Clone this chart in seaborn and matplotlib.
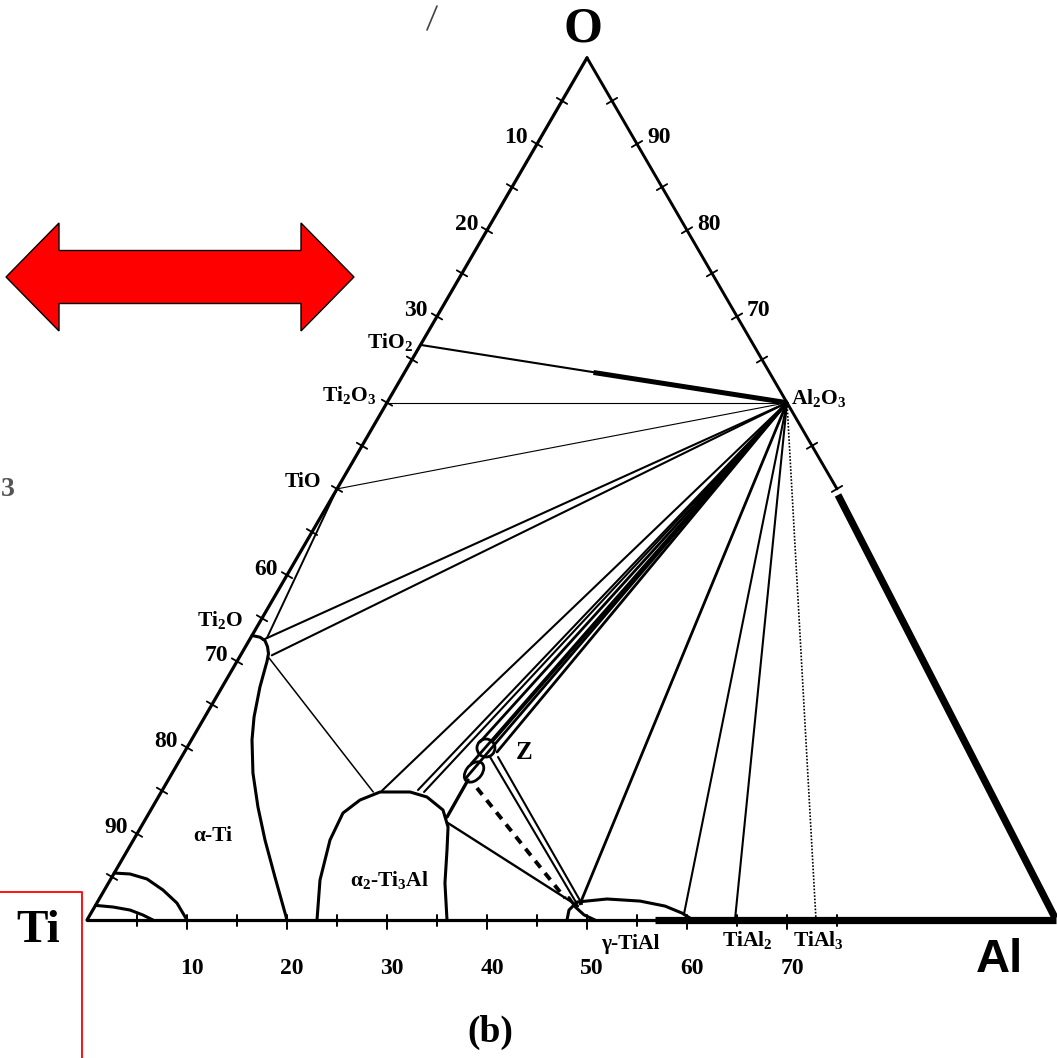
import numpy as np
import pandas as pd
import matplotlib
matplotlib.use('Agg')
import matplotlib.pyplot as plt
from matplotlib.patches import Ellipse, Polygon
import seaborn as sns

# compositions are at.% (Al, O); Ti is the balance
AL2O3 = (40.0, 60.0)

# tie lines radiating from Al2O3 (end compositions)
tie_thin_al = [0.0, 0.0]             # Ti2O3, TiO
tie_thin_o = [60.0, 50.0]
tie_al = [0.0, 1.36, 3.13, 22.0, 25.56, 26.28, 59.35, 64.7]
tie_o = [66.7, 32.5, 30.7, 15.0, 15.08, 14.85, 0.7, 0.23]
tie_heavy_al = [29.66, 29.35, 28.98, 30.18, 31.26, 48.37]
tie_heavy_o = [16.47, 18.1, 20.65, 20.65, 19.49, 1.86]
tie_dot_al = [72.9]
tie_dot_o = [0.0]
tio2_band_start = (18.9, 63.5)

# other tie lines (start -> end)
seg_a_al = [1.64, 3.0, 30.03, 30.47, 30.85, 31.65]
seg_a_o = [32.7, 30.4, 11.95, 11.25, 18.91, 18.91]
seg_b_al = [0.0, 21.2, 29.98, 48.29, 48.07, 48.57]
seg_b_o = [50.0, 14.85, 16.24, 1.62, 1.86, 1.86]
seg_lw = [1.4, 1.1, 2.4, 1.7, 1.5, 1.5]
dash_al = [31.34, 46.52]
dash_o = [15.31, 2.55]

# phase boundaries
alpha_al = [0.0, 0.9, 1.6, 2.2, 2.7, 3.0, 3.78, 4.93, 6.06, 8.07, 10.54, 13.16, 16.3, 20.0]
alpha_o = [33.0, 32.8, 32.4, 31.7, 30.9, 30.0, 27.03, 23.55, 20.88, 17.05, 13.11, 9.28, 4.99, 0.0]
dome_al = [23.0, 20.98, 19.66, 19.39, 20.34, 21.88, 24.88, 26.86, 29.22, 30.71, 31.94, 33.65, 36.0]
dome_o = [0.0, 4.64, 9.28, 12.41, 13.92, 14.85, 14.85, 14.27, 12.76, 10.79, 8.12, 4.29, 0.0]
gamma_al = [48.0, 47.62, 47.96, 50.78, 54.2, 56.99, 59.09, 60.18]
gamma_o = [0.0, 1.16, 2.09, 2.44, 2.2, 1.62, 0.81, 0.23]
gamma_low_al = [46.9, 48.1, 49.4, 50.8]
gamma_low_o = [2.6, 1.5, 0.6, 0.0]
arc1_al = [0.0, 1.63, 3.62, 5.86, 8.01, 10.0]
arc1_o = [5.45, 5.34, 4.76, 3.48, 1.97, 0.0]
arc2_al = [0.0, 1.85, 3.72, 5.31, 6.6]
arc2_o = [1.7, 1.51, 1.16, 0.58, 0.0]

# Z point and neighbouring ellipse (centres)
z_circle = (29.92, 19.95)
z_ellipse = (30.12, 17.17)

# overlaid heavy edges (end points)
heavy_right = [(50.45, 49.3), (96.7, 0.23)]
heavy_base = [(56.8, 0.0), (96.9, 0.0)]
right_edge_end = (50.0, 50.0)
base_edge_end = (56.8, 0.0)

# axis ticks
left_ticks = [5, 10, 15, 20, 25, 30, 35, 40, 45, 50, 55, 60, 65, 70, 75, 80, 85, 90, 95]
left_labels = ['10', '20', '30', '60', '70', '80', '90']
right_ticks = [95, 90, 85, 80, 75, 70, 65, 55, 50]
right_labels = ['90', '80', '70']
base_ticks = [5, 10, 15, 20, 25, 30, 35, 40, 45, 50, 55, 60, 65, 70, 75]
base_labels = ['10', '20', '30', '40', '50', '60', '70']

# phase labels (text, Al, O)
phase_text = ['TiO$_2$', 'Ti$_2$O$_3$', 'TiO', 'Ti$_2$O', 'Al$_2$O$_3$', 'α-Ti',
              'α$_2$-Ti$_3$Al', 'γ-TiAl', 'TiAl$_2$', 'TiAl$_3$']
phase_al = [-3.23, -4.25, -3.8, -4.1, 42.9, 7.73, 27.98, 55.69, 67.16, 74.26]
phase_o = [67.05, 60.9, 50.8, 34.8, 60.56, 9.74, 4.64, -2.78, -2.32, -2.32]


def cart(al, o):
    al = np.asarray(al, float)
    o = np.asarray(o, float)
    return al + o / 2.0, o


PX_X, PX_Y = 10.0, 8.62   # pixels per data unit


def px2d(dx, dy):
    return dx / PX_X, -dy / PX_Y


sns.set_theme(style='white')
plt.rcParams['font.family'] = ['Liberation Serif', 'DejaVu Serif']
plt.rcParams['font.weight'] = 'bold'
plt.rcParams['text.color'] = 'black'
plt.rcParams['mathtext.default'] = 'regular'

fig = plt.figure(figsize=(10.57, 10.58), dpi=100)
ax = fig.add_axes([0, 0, 1, 1])
ax.set_xlim(-8.7, 97.0)
ax.set_ylim(-16.0, 106.7)
ax.axis('off')

K = 'black'

# triangle edges
x, y = cart([0, 0], [0, 100])
ax.plot(x, y, color=K, lw=2.3, solid_capstyle='round')
x, y = cart([0, right_edge_end[0]], [100, right_edge_end[1]])
ax.plot(x, y, color=K, lw=2.1)
x, y = cart([0, base_edge_end[0]], [0, base_edge_end[1]])
ax.plot(x, y, color=K, lw=2.3)
for seg in (heavy_right, heavy_base):
    x, y = cart([p[0] for p in seg], [p[1] for p in seg])
    ax.plot(x, y, color=K, lw=5.2, solid_capstyle='butt')

# ticks
def draw_ticks(pts, perp, half, lw=1.3):
    for (al, o) in pts:
        cx, cy = cart(al, o)
        dx, dy = px2d(perp[0] * half, perp[1] * half)
        ax.plot([cx - dx, cx + dx], [cy - dy, cy + dy], color=K, lw=lw)

draw_ticks([(0, 100 - v) for v in left_ticks], (0.865, 0.502), 6)
draw_ticks([(100 - v, v) for v in right_ticks], (-0.865, 0.502), 6)
for v in base_ticks:
    cx, cy = cart(v, 0)
    h = 9 if v % 10 == 0 else 6
    ax.plot([cx, cx], [cy + 5 / PX_Y, cy - h / PX_Y], color=K, lw=1.4)

lab_kw = dict(fontsize=17, fontweight='bold', textcoords='offset pixels')
for t in left_labels:
    v = float(t)
    ax.annotate(t, cart(0, 100 - v), xytext=(-9, 6), ha='right', va='center', **lab_kw)
for t in right_labels:
    v = float(t)
    ax.annotate(t, cart(100 - v, v), xytext=(10, 6), ha='left', va='center', **lab_kw)
for t in base_labels:
    v = float(t)
    ax.annotate(t, cart(v, 0), xytext=(5, -48), ha='center', va='center', **lab_kw)

# tie-line fans from Al2O3 (seaborn, one unit per line)
def fan_frame(ends_al, ends_o):
    rows = []
    for i, (a, o) in enumerate(zip(ends_al, ends_o)):
        for (pa, po) in (AL2O3, (a, o)):
            px, py = cart(pa, po)
            rows.append({'tie': i, 'x': float(px), 'y': float(py)})
    return pd.DataFrame(rows)

fan_kw = dict(x='x', y='y', units='tie', estimator=None, sort=False, color=K, ax=ax, legend=False)
sns.lineplot(data=fan_frame(tie_thin_al, tie_thin_o), lw=0.8, **fan_kw)
sns.lineplot(data=fan_frame(tie_al, tie_o), lw=1.5, **fan_kw)
sns.lineplot(data=fan_frame(tie_heavy_al, tie_heavy_o), lw=2.0, **fan_kw)
sns.lineplot(data=fan_frame(tie_dot_al, tie_dot_o), lw=1.2, linestyle=(0, (1, 1)), **fan_kw)
x, y = cart([tio2_band_start[0], AL2O3[0]], [tio2_band_start[1], AL2O3[1]])
ax.plot(x, y, color=K, lw=3.6, solid_capstyle='butt')

# other tie lines
for a0, o0, a1, o1, w in zip(seg_a_al, seg_a_o, seg_b_al, seg_b_o, seg_lw):
    x, y = cart([a0, a1], [o0, o1])
    ax.plot(x, y, color=K, lw=w)
x, y = cart(dash_al, dash_o)
ax.plot(x, y, color=K, lw=2.8, linestyle=(0, (2.2, 1.8)))

# phase boundaries
for al, o in ((alpha_al, alpha_o), (dome_al, dome_o), (gamma_al, gamma_o),
              (gamma_low_al, gamma_low_o), (arc1_al, arc1_o), (arc2_al, arc2_o)):
    x, y = cart(al, o)
    ax.plot(x, y, color=K, lw=2.2, solid_joinstyle='round', solid_capstyle='round')

# Z point and the ellipse below it
cx, cy = cart(*z_circle)
ax.add_patch(Ellipse((cx, cy), 18 / PX_X, 18 / PX_Y, fill=False, ec=K, lw=2.0))
cx, cy = cart(*z_ellipse)
ax.add_patch(Ellipse((cx, cy), 26 / PX_X, 14 / PX_Y, angle=58, fill=False, ec=K, lw=2.0))
ax.annotate('Z', cart(*z_circle), xytext=(38, -4), textcoords='offset pixels',
            fontsize=18, fontweight='bold', ha='center', va='center')

# phase labels
for t, a, o in zip(phase_text, phase_al, phase_o):
    ax.text(*cart(a, o), t, fontsize=15.5, fontweight='bold', ha='center', va='center')

# corner labels and caption
ax.text(*cart(-2.0, 103.25), 'O', fontsize=36, fontweight='bold', ha='center', va='center')
ax.text(*cart(-4.24, -1.3), 'Ti', fontsize=34, fontweight='bold', ha='center', va='center')
ax.text(*cart(93.6, -4.64), 'Al', fontsize=34, fontweight='bold', ha='center', va='center',
        family=['Liberation Sans', 'DejaVu Sans'])
ax.text(*cart(46.8, -13.0), '(b)', fontsize=27, fontweight='bold', ha='center', va='center')

# decorations in figure pixels
deco = fig.add_axes([0, 0, 1, 1])
deco.set_xlim(0, 1057)
deco.set_ylim(1058, 0)
deco.axis('off')
deco.patch.set_alpha(0)

arrow_x0, arrow_x1, arrow_yc = 6, 354, 277
arrow_head, arrow_shaft, arrow_len = 54, 26.5, 53
arrow_pts = [
    (arrow_x0, arrow_yc), (arrow_x0 + arrow_len, arrow_yc - arrow_head),
    (arrow_x0 + arrow_len, arrow_yc - arrow_shaft), (arrow_x1 - arrow_len, arrow_yc - arrow_shaft),
    (arrow_x1 - arrow_len, arrow_yc - arrow_head), (arrow_x1, arrow_yc),
    (arrow_x1 - arrow_len, arrow_yc + arrow_head), (arrow_x1 - arrow_len, arrow_yc + arrow_shaft),
    (arrow_x0 + arrow_len, arrow_yc + arrow_shaft), (arrow_x0 + arrow_len, arrow_yc + arrow_head),
]
deco.add_patch(Polygon(arrow_pts, closed=True, fc='#ff0000', ec=K, lw=1.0))

box_right, box_top = 82, 892
deco.plot([0, box_right, box_right], [box_top, box_top, 1058], color='#ff0000', lw=1.3)
deco.text(1, 490, '3', fontsize=20, color='#555555', ha='left', va='center')
deco.plot([427, 437], [30, 6], color='#444444', lw=1.2)

fig.savefig('out.png', dpi=100)
